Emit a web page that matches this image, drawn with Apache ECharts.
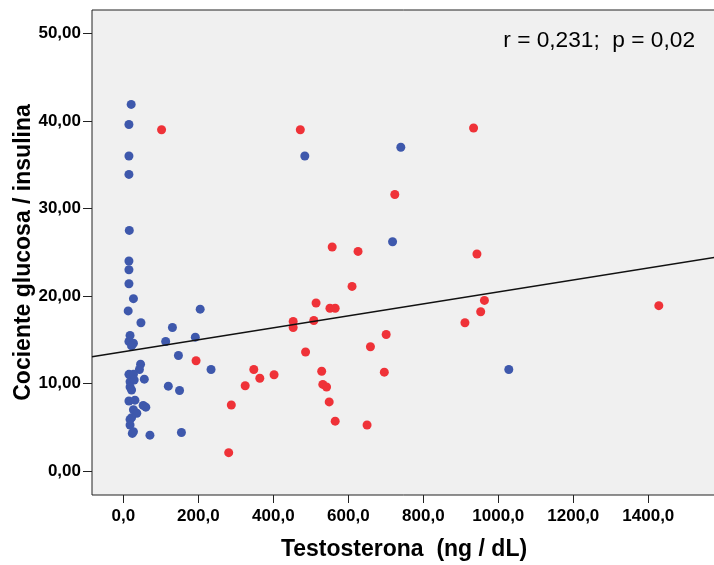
<!DOCTYPE html>
<html>
<head>
<meta charset="utf-8">
<script src="https://cdn.jsdelivr.net/npm/echarts@6.0.0/dist/echarts.min.js"></script>
<style>
html,body{margin:0;padding:0;background:#fff;}
#chart{width:714px;height:565px;}
</style>
</head>
<body>
<div id="chart"></div>
<script>
// Group 1 (blue): [testosterona, cociente]
var blueX = [21,15,15,15,16,15,15,15,27,13,47,131,18,15,27,22,113,192,205,147,234,46,43,15,27,18,29,18,22,56,120,150,15,31,53,60,27,36,22,18,18,24,27,71,155,484,740,718,1028];
var blueY = [41.9,39.6,36.0,33.9,27.5,24.0,23.0,21.4,19.7,18.3,16.95,16.4,15.5,14.8,14.6,14.3,14.8,15.3,18.5,13.2,11.6,12.2,11.6,11.05,11.05,10.2,10.4,9.6,9.26,10.5,9.7,9.2,8.0,8.1,7.5,7.3,7.0,6.6,6.1,5.9,5.26,4.3,4.5,4.1,4.4,36.0,37.0,26.2,11.6];
// Group 2 (red)
var redX = [102,472,934,724,557,626,943,610,514,551,565,453,453,508,953,963,911,1428,701,659,486,194,348,529,402,364,696,325,532,542,549,288,565,650,281];
var redY = [39.0,39.0,39.2,31.6,25.6,25.1,24.8,21.1,19.2,18.6,18.6,17.1,16.4,17.2,18.2,19.5,16.95,18.9,15.6,14.2,13.6,12.6,11.6,11.4,11.0,10.6,11.3,9.75,9.9,9.6,7.9,7.55,5.7,5.26,2.1];
// Fit line
var fitIntercept = 13.63;
var fitSlope = 0.00684;
// Axis ticks
var xTicks = [0,200,400,600,800,1000,1200,1400];
var yTicks = [0,10,20,30,40,50];
var xMin = -83.5, xMax = 1580.5;
var yMin = -2.74, yMax = 52.69;
var annotation = 'r = 0,231;  p = 0,02';

function zip(a,b){var r=[];for(var i=0;i<a.length;i++)r.push([a[i],b[i]]);return r;}

var chart = echarts.init(document.getElementById('chart'), null, {renderer:'canvas'});
var labelFont = {fontFamily:'"Liberation Sans", Arial, sans-serif', fontWeight:'bold', fontSize:17, color:'#000'};
chart.setOption({
  animation:false,
  backgroundColor:'#ffffff',
  grid:{left:92, top:10, right:-2, bottom:70, outerBoundsMode:'none', show:true, backgroundColor:'#f0f0f0', borderColor:'#222', borderWidth:1},
  xAxis:{
    type:'value', min:xMin, max:xMax,
    name:'Testosterona  (ng / dL)', nameLocation:'middle', nameGap:43,
    nameTextStyle:{fontFamily:'"Liberation Sans", Arial, sans-serif', fontWeight:'bold', fontSize:23, color:'#000'},
    axisLine:{show:false, onZero:false},
    axisTick:{show:true, inside:false, length:8, lineStyle:{color:'#222', width:1}, customValues:xTicks},
    axisLabel:Object.assign({margin:13, customValues:xTicks, formatter:function(v){return v.toFixed(1).replace('.',',');}}, labelFont),
    splitLine:{show:false}
  },
  yAxis:{
    type:'value', min:yMin, max:yMax,
    name:'Cociente glucosa / insulina', nameLocation:'middle', nameGap:57, nameRotate:90, nameMoveOverlap:false,
    nameTextStyle:{fontFamily:'"Liberation Sans", Arial, sans-serif', fontWeight:'bold', fontSize:23, color:'#000'},
    axisLine:{show:false, onZero:false},
    axisTick:{show:true, inside:false, length:9, lineStyle:{color:'#222', width:1}, customValues:yTicks},
    axisLabel:Object.assign({margin:11, customValues:yTicks, formatter:function(v){return v.toFixed(2).replace('.',',');}}, labelFont),
    splitLine:{show:false}
  },
  graphic:[{
    type:'text', right:19, top:29,
    style:{text:annotation, font:'22.7px "Liberation Sans", Arial, sans-serif', fill:'#000'}
  }],
  series:[
    {type:'scatter', data:zip(blueX,blueY), symbolSize:9, itemStyle:{color:'#3e58ac', opacity:1}, z:2},
    {type:'scatter', data:zip(redX,redY), symbolSize:9, itemStyle:{color:'#ef3238', opacity:1}, z:2},
    {type:'line', data:[[xMin, fitIntercept+fitSlope*xMin],[xMax, fitIntercept+fitSlope*xMax]], showSymbol:false, symbol:'none', lineStyle:{color:'#111', width:1.5}, z:3, silent:true}
  ]
});
</script>
</body>
</html>
